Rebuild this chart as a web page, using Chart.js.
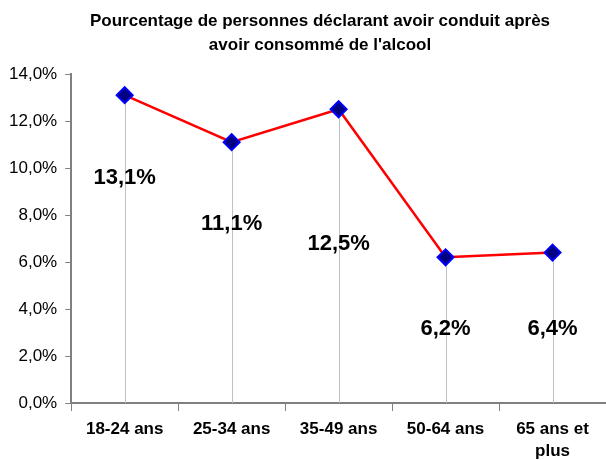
<!DOCTYPE html>
<html lang="fr">
<head>
<meta charset="utf-8">
  <title>Conduite après alcool</title>
  <script src="https://cdn.jsdelivr.net/npm/chart.js@4.4.0/dist/chart.umd.min.js"></script>
  <style>
    body { margin: 0; background: #fff; }
  </style>
</head>
<body>
  <canvas id="myChart" width="606" height="460"></canvas>

  <script>
    // data
    var categories = ['18-24 ans', '25-34 ans', '35-49 ans', '50-64 ans', ['65 ans et', 'plus']];
    var percentages = [13.1, 11.1, 12.5, 6.2, 6.4];
    var yTicks = [0, 2, 4, 6, 8, 10, 12, 14];
    var titleLines = ['Pourcentage de personnes déclarant avoir conduit après', "avoir consommé de l'alcool"];

    // how far below each point its label sits (px)
    var labelOffsets = [83, 82, 135, 72, 76];

    function fmt(v) {
      return v.toFixed(1).replace('.', ',') + '%';
    }

    // title drawn by hand so it can sit a bit right of the canvas centre like the original
    const titleText = {
      id: 'titleText',
      afterDraw(chart) {
        const ctx = chart.ctx;
        ctx.save();
        ctx.fillStyle = '#000';
        ctx.font = 'bold 17px "Liberation Sans", Arial, sans-serif';
        ctx.textAlign = 'center';
        ctx.textBaseline = 'middle';
        titleLines.forEach(function (t, i) {
          ctx.fillText(t, 320, 21 + i * 24);
        });
        ctx.restore();
      }
    };

    // grey drop lines from each point down to the axis + the big value labels
    const dropLines = {
      id: 'dropLines',
      beforeDatasetsDraw(chart) {
        const ctx = chart.ctx;
        const meta = chart.getDatasetMeta(0);
        const bottom = chart.chartArea.bottom;
        ctx.save();
        ctx.strokeStyle = '#c0c0c0';
        ctx.lineWidth = 1;
        meta.data.forEach(function (pt) {
          ctx.beginPath();
          ctx.moveTo(Math.round(pt.x) + 0.5, pt.y);
          ctx.lineTo(Math.round(pt.x) + 0.5, bottom);
          ctx.stroke();
        });
        ctx.restore();
      },
      afterDatasetsDraw(chart) {
        const ctx = chart.ctx;
        const meta = chart.getDatasetMeta(0);
        ctx.save();
        ctx.fillStyle = '#000';
        ctx.font = 'bold 22px "Liberation Sans", Arial, sans-serif';
        ctx.textAlign = 'center';
        ctx.textBaseline = 'middle';
        meta.data.forEach(function (pt, i) {
          ctx.fillText(fmt(percentages[i]), pt.x, pt.y + labelOffsets[i]);
        });
        ctx.restore();
      }
    };

    const config = {
      type: 'line',
      data: {
        labels: categories,
        datasets: [{
          data: percentages,
          borderColor: '#ff0000',
          borderWidth: 2.5,
          tension: 0,
          pointStyle: 'rectRot',
          pointRadius: 8,
          pointHoverRadius: 8,
          pointBackgroundColor: '#000080',
          pointBorderColor: '#0000ff',
          pointBorderWidth: 2
        }]
      },
      options: {
        responsive: false,
        animation: false,
        layout: {
          autoPadding: false,
          padding: { left: 1, right: 0, top: 74, bottom: 0 }
        },
        scales: {
          x: {
            offset: true,
            afterFit(scale) {
              // let the axis run to the right edge and keep the labels low like the original
              scale.paddingRight = 0;
              scale.height = 57;
            },
            grid: {
              offset: true,
              drawOnChartArea: false,
              drawTicks: true,
              tickLength: 8,
              color: '#808080',
              lineWidth: 1
            },
            border: { color: '#808080', width: 2 },
            ticks: {
              color: '#000',
              padding: 8,
              maxRotation: 0,
              autoSkip: false,
              font: { family: '"Liberation Sans", Arial, sans-serif', size: 17, weight: 'bold', lineHeight: 1.25 }
            }
          },
          y: {
            min: 0,
            max: 14,
            afterBuildTicks(axis) {
              axis.ticks = yTicks.map(v => ({ value: v }));
            },
            grid: {
              drawOnChartArea: false,
              drawTicks: true,
              tickLength: 6,
              color: '#808080'
            },
            border: { color: '#808080', width: 2 },
            ticks: {
              color: '#000',
              padding: 8,
              callback: v => fmt(v),
              font: { family: '"Liberation Sans", Arial, sans-serif', size: 17 }
            }
          }
        },
        plugins: {
          legend: { display: false },
          tooltip: { enabled: false },
          title: { display: false }
        }
      },
      plugins: [dropLines, titleText]
    };

    var myChart = new Chart(document.getElementById('myChart'), config);
  </script>
</body>
</html>
